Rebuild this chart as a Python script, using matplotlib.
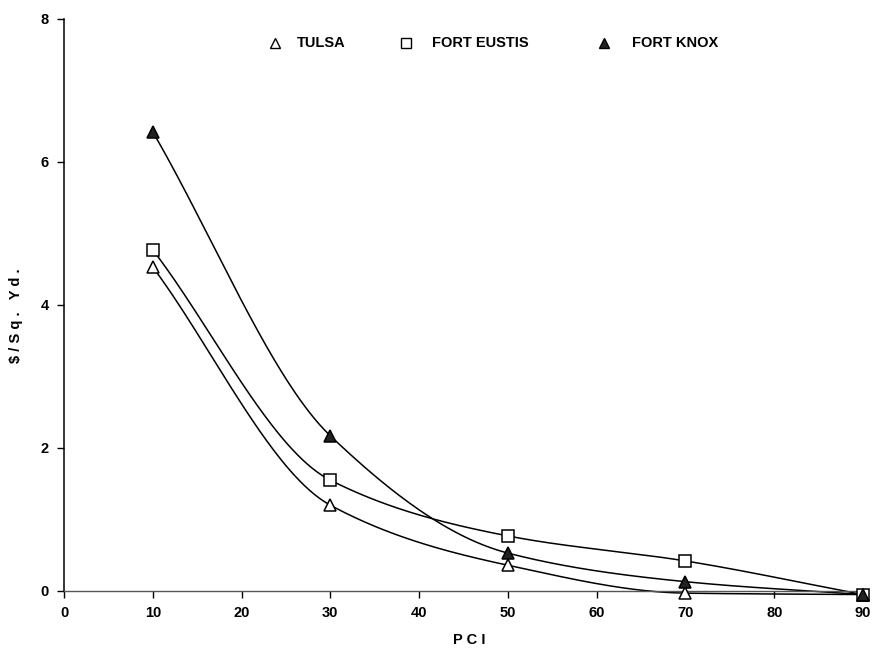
import numpy as np
import matplotlib
matplotlib.use('Agg')
import matplotlib.pyplot as plt
from matplotlib.lines import Line2D

plt.rcParams['font.family'] = ['Liberation Sans', 'DejaVu Sans']

# values
pci = [10, 30, 50, 70, 90]
tulsa = [4.53, 1.20, 0.36, -0.03, -0.05]
fort_eustis = [4.77, 1.55, 0.77, 0.42, -0.05]
fort_knox = [6.42, 2.17, 0.53, 0.13, -0.05]

x_ticks = [0, 10, 20, 30, 40, 50, 60, 70, 80, 90]
y_ticks = [0, 2, 4, 6, 8]
names = ['TULSA', 'FORT EUSTIS', 'FORT KNOX']


def pchip(x, y, xs):
    # shape preserving cubic through the points (just for drawing the smooth curve)
    x = np.asarray(x, float)
    y = np.asarray(y, float)
    h = np.diff(x)
    d = np.diff(y) / h
    m = np.zeros_like(y)
    for k in range(1, len(x) - 1):
        if d[k - 1] * d[k] > 0:
            w1 = 2 * h[k] + h[k - 1]
            w2 = h[k] + 2 * h[k - 1]
            m[k] = (w1 + w2) / (w1 / d[k - 1] + w2 / d[k])
    m[0] = d[0]
    m[-1] = d[-1]
    out = np.empty_like(xs)
    for i, xv in enumerate(xs):
        k = min(np.searchsorted(x, xv, side='right') - 1, len(x) - 2)
        t = (xv - x[k]) / h[k]
        h00 = 2 * t**3 - 3 * t**2 + 1
        h10 = t**3 - 2 * t**2 + t
        h01 = -2 * t**3 + 3 * t**2
        h11 = t**3 - t**2
        out[i] = h00 * y[k] + h10 * h[k] * m[k] + h01 * y[k + 1] + h11 * h[k] * m[k + 1]
    return out


fig = plt.figure(figsize=(8.72, 6.5), dpi=100)
ax = fig.add_axes([0.0734, 0.0908, 0.9163, 0.88])

xs = np.linspace(pci[0], pci[-1], 300)
styles = [
    dict(marker='^', mfc='white', mec='black'),
    dict(marker='s', mfc='white', mec='black'),
    dict(marker='^', mfc='#222222', mec='black'),
]
for vals, style in zip([tulsa, fort_eustis, fort_knox], styles):
    ax.plot(xs, pchip(pci, vals, xs), color='black', lw=1.1, clip_on=False, zorder=2)
    ax.plot(pci, vals, ls='none', ms=9, mew=1.1, clip_on=False, zorder=3, **style)

ax.set_xlim(0, 90)
ax.set_ylim(0, 8)
ax.set_xticks(x_ticks)
ax.set_yticks(y_ticks)
for s in ['top', 'right']:
    ax.spines[s].set_visible(False)
ax.spines['left'].set_linewidth(1.1)
ax.spines['bottom'].set_linewidth(1.0)
ax.spines['bottom'].set_color('#555555')
ax.tick_params(axis='x', length=5, width=1, pad=6, labelsize=10.5)
ax.tick_params(axis='y', length=5, width=1, pad=6, labelsize=10.5)
for lab in ax.get_xticklabels() + ax.get_yticklabels():
    lab.set_fontweight('bold')

fig.text(0.538, 0.015, 'P C I', ha='center', va='center', fontsize=10.5, fontweight='bold')
fig.text(0.018, 0.515, '$ / S q .   Y d .', rotation=90, ha='center', va='center',
         fontsize=10.5, fontweight='bold')

# key across the top, placed by hand like the original
W, H = 872.0, 650.0
key_marker_x = [275, 406, 604]
key_text_x = [297, 432, 632]
key_y = 1 - 43 / H
for name, style, mx, tx in zip(names, styles, key_marker_x, key_text_x):
    fig.add_artist(Line2D([mx / W], [key_y], ls='none', ms=7, mew=1.0,
                          transform=fig.transFigure, **style))
    fig.text(tx / W, key_y, name, ha='left', va='center', fontsize=10.5,
             fontweight='bold')

fig.savefig('out.png', dpi=100)
